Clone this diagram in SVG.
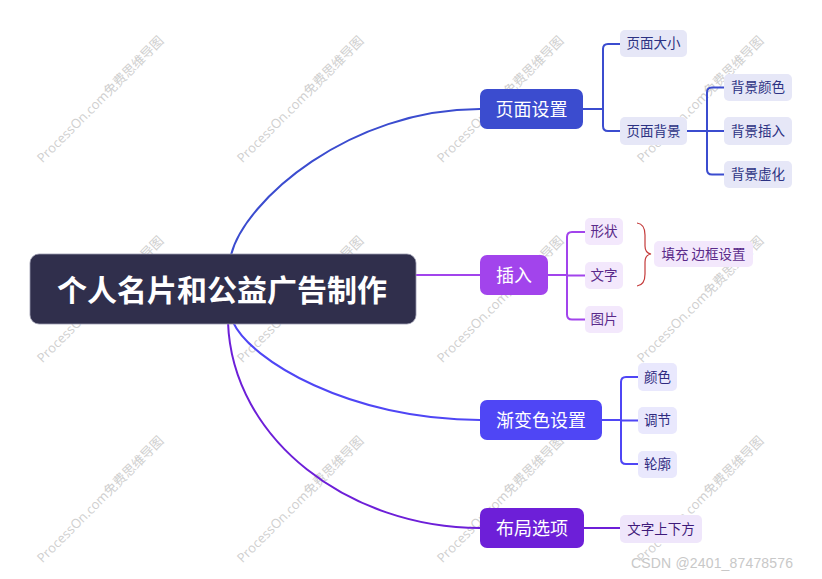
<svg xmlns="http://www.w3.org/2000/svg" width="822" height="579" viewBox="0 0 822 579">
<style>
.wm{font-family:"Open Sans","Noto Sans CJK SC",sans-serif;font-size:13px;fill:#cfcfcf;text-anchor:middle;dominant-baseline:central}
.t{font-family:"Noto Sans CJK SC","Noto Sans",sans-serif;text-anchor:middle;dominant-baseline:central;transform:translateY(-1.5px)}
.root{font-size:30px;font-weight:bold;fill:#ffffff}
.main{font-size:18px;fill:#ffffff}
.sub{font-size:13.5px}
.ln{fill:none;stroke-width:2;stroke-linecap:round;stroke-linejoin:round}
</style>
<rect width="822" height="579" fill="#ffffff"/>
<g id="watermarks">
<text class="wm" transform="translate(100,99) rotate(-45)">ProcessOn.com免费思维导图</text>
<text class="wm" transform="translate(300,99) rotate(-45)">ProcessOn.com免费思维导图</text>
<text class="wm" transform="translate(500,99) rotate(-45)">ProcessOn.com免费思维导图</text>
<text class="wm" transform="translate(700,99) rotate(-45)">ProcessOn.com免费思维导图</text>
<text class="wm" transform="translate(100,299) rotate(-45)">ProcessOn.com免费思维导图</text>
<text class="wm" transform="translate(300,299) rotate(-45)">ProcessOn.com免费思维导图</text>
<text class="wm" transform="translate(500,299) rotate(-45)">ProcessOn.com免费思维导图</text>
<text class="wm" transform="translate(700,299) rotate(-45)">ProcessOn.com免费思维导图</text>
<text class="wm" transform="translate(100,499) rotate(-45)">ProcessOn.com免费思维导图</text>
<text class="wm" transform="translate(300,499) rotate(-45)">ProcessOn.com免费思维导图</text>
<text class="wm" transform="translate(500,499) rotate(-45)">ProcessOn.com免费思维导图</text>
<text class="wm" transform="translate(700,499) rotate(-45)">ProcessOn.com免费思维导图</text>
</g>
<g id="connectors">
<path class="ln" stroke="#3b4ccf" d="M231,255 C245,200 350,109 480,109"/>
<path class="ln" stroke="#a244ec" d="M415,275 H480"/>
<path class="ln" stroke="#4f46f5" d="M233,322 C250,360 350,420 480,420"/>
<path class="ln" stroke="#6d1fd8" d="M228,322 C232,440 350,528 480,528"/>
<path class="ln" stroke="#3b4ccf" d="M583,109 H603 M620,44 H608 Q603,44 603,49 V126 Q603,131 608,131 H620"/>
<path class="ln" stroke="#3b4ccf" stroke-width="3" d="M687,131 H707"/>
<path class="ln" stroke="#3b4ccf" d="M724,87.5 H712 Q707,87.5 707,92.5 V169.5 Q707,174.5 712,174.5 H724 M707,131 H724"/>
<path class="ln" stroke="#a244ec" d="M548,275 H567 M585,232 H572 Q567,232 567,237 V314.5 Q567,319.5 572,319.5 H585 M567,275.5 H585"/>
<path fill="none" stroke="#c43a3a" stroke-width="1.2" d="M637,223 Q645,224 645,235 V246 Q645,253 651,254 Q645,255 645,262 V274 Q645,285 637,286"/>
<path class="ln" stroke="#4f46f5" d="M602,420 H621 M638,377 H626 Q621,377 621,382 V459 Q621,464 626,464 H638 M621,420.5 H638"/>
<path class="ln" stroke="#6d1fd8" d="M584,528 H620"/>
</g>
<g id="root">
<rect x="30" y="254" width="386" height="70" rx="9" fill="#302f4c" stroke="#9a9aae" stroke-width="0.8"/>
<text class="t root" x="222" y="289">个人名片和公益广告制作</text>
</g>
<g id="n-yemianshezhi">
<rect x="480" y="89" width="103" height="40" rx="7" fill="#3b4ccf"/>
<text class="t main" x="531.5" y="109">页面设置</text>
</g>
<g id="n-yemiandaxiao">
<rect x="620" y="30" width="67" height="27" rx="5" fill="#e6e7f7"/>
<text class="t sub" x="653.5" y="43.5" fill="#2c3283">页面大小</text>
</g>
<g id="n-yemianbeijing">
<rect x="620" y="117" width="67" height="28" rx="5" fill="#e6e7f7"/>
<text class="t sub" x="653.5" y="131" fill="#2c3283">页面背景</text>
</g>
<g id="n-beijingyanse">
<rect x="724" y="74" width="68" height="27" rx="5" fill="#e6e7f7"/>
<text class="t sub" x="758" y="87.5" fill="#2c3283">背景颜色</text>
</g>
<g id="n-beijingcharu">
<rect x="724" y="117" width="68" height="28" rx="5" fill="#e6e7f7"/>
<text class="t sub" x="758" y="131" fill="#2c3283">背景插入</text>
</g>
<g id="n-beijingxuhua">
<rect x="724" y="161" width="68" height="27" rx="5" fill="#e6e7f7"/>
<text class="t sub" x="758" y="174.5" fill="#2c3283">背景虚化</text>
</g>
<g id="n-charu">
<rect x="480" y="255" width="68" height="40" rx="7" fill="#a244ec"/>
<text class="t main" x="514" y="275">插入</text>
</g>
<g id="n-xingzhuang">
<rect x="585" y="218" width="38" height="27" rx="5" fill="#f3e8fc"/>
<text class="t sub" x="604" y="231.5" fill="#5a2a8a">形状</text>
</g>
<g id="n-wenzi">
<rect x="585" y="262" width="38" height="27" rx="5" fill="#f3e8fc"/>
<text class="t sub" x="604" y="275.5" fill="#5a2a8a">文字</text>
</g>
<g id="n-tupian">
<rect x="585" y="306" width="38" height="27" rx="5" fill="#f3e8fc"/>
<text class="t sub" x="604" y="319.5" fill="#5a2a8a">图片</text>
</g>
<g id="n-tianchong">
<rect x="654" y="241" width="99" height="26" rx="5" fill="#f3e8fc"/>
<text class="t sub" x="703.5" y="254" fill="#5a2a8a">填充 边框设置</text>
</g>
<g id="n-jianbianse">
<rect x="480" y="400" width="122" height="40" rx="7" fill="#4f46f5"/>
<text class="t main" x="541" y="420">渐变色设置</text>
</g>
<g id="n-yanse">
<rect x="638" y="363" width="39" height="28" rx="5" fill="#e9e8fd"/>
<text class="t sub" x="657.5" y="377" fill="#2e2a80">颜色</text>
</g>
<g id="n-tiaojie">
<rect x="638" y="407" width="39" height="27" rx="5" fill="#e9e8fd"/>
<text class="t sub" x="657.5" y="420.5" fill="#2e2a80">调节</text>
</g>
<g id="n-lunkuo">
<rect x="638" y="451" width="39" height="27" rx="5" fill="#e9e8fd"/>
<text class="t sub" x="657.5" y="464.5" fill="#2e2a80">轮廓</text>
</g>
<g id="n-buju">
<rect x="480" y="508" width="104" height="40" rx="7" fill="#6d1fd8"/>
<text class="t main" x="532" y="528">布局选项</text>
</g>
<g id="n-wenzishangxia">
<rect x="620" y="515" width="82" height="28" rx="5" fill="#efe6fb"/>
<text class="t sub" x="661" y="529" fill="#3e1a7a">文字上下方</text>
</g>
<text x="631" y="568" font-family="Liberation Sans,Arial,sans-serif" font-size="14" fill="#c8c8c8" textLength="162">CSDN @2401_87478576</text>
</svg>
